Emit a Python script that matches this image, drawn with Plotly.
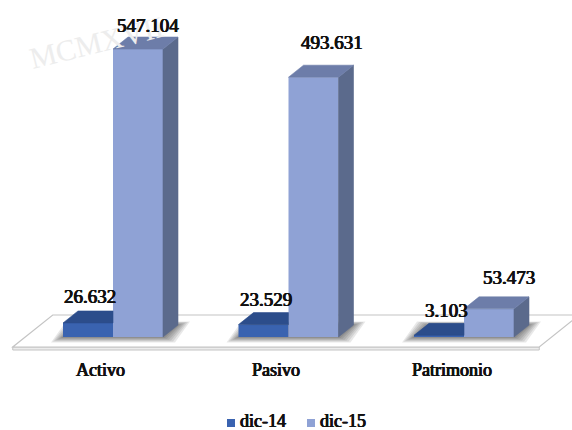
import plotly.graph_objects as go

# ---- data -----------------------------------------------------------------
categorias = ["Activo", "Pasivo", "Patrimonio"]
series = ["dic-14", "dic-15"]
dic_14 = [26.632, 23.529, 3.103]
dic_15 = [547.104, 493.631, 53.473]

# per-label placement tweaks in pixels (right, up)
nudge_14 = [(-13, 14), (-13, 13), (-8, 13)]
nudge_15 = [(-5, 12), (3, 23), (5, 19)]

# ---- geometry of the oblique "3-D" view ----------------------------------
W, H = 572, 430
CAT_PX = 175.5      # pixels between category centres
ORIGIN_PX = 113     # pixel column of the first category centre
BASE_PX = 337       # pixel row of value 0 on the bars' front edge
K = 1.9             # value units per pixel


def ux(p):
    return p / CAT_PX


def uy(p):
    return p * K


BW = ux(50)                 # bar width
DX, DY = ux(15), uy(12)     # bar depth offset
FX, FY = ux(-12.5), uy(-10)  # floor front edge relative to bar front
BX, BY = ux(27.5), uy(22)    # floor back edge relative to bar front
SLAB = uy(3)

C14 = dict(front="#3A63B0", top="#2C4D8B")
C15 = dict(front="#8FA2D5", top="#6D7DA9", side="#5B6A8C")
FONT = "Liberation Serif"
INK = "#111111"
# heavier strokes for the serif face
HEAVY = "0.5px 0 0 #111111, -0.5px 0 0 #111111, 0 0.3px 0 #111111"


def text_font(size):
    return dict(family=FONT, size=size, color=INK, shadow=HEAVY)


xs = list(range(len(categorias)))

fig = go.Figure()

# front faces (real bars)
fig.add_trace(go.Bar(x=xs, y=dic_14, width=BW, offset=-BW, name=series[0],
                     marker=dict(color=C14["front"], line=dict(width=0)),
                     hoverinfo="skip"))
fig.add_trace(go.Bar(x=xs, y=dic_15, width=BW, offset=0, name=series[1],
                     marker=dict(color=C15["front"], line=dict(width=0)),
                     hoverinfo="skip"))


def poly_trace(polys, colour):
    px, py = [], []
    for p in polys:
        for (a, b) in p:
            px.append(a)
            py.append(b)
        px.append(p[0][0])
        py.append(p[0][1])
        px.append(None)
        py.append(None)
    return go.Scatter(x=px, y=py, mode="lines", fill="toself",
                      fillcolor=colour, line=dict(color=colour, width=0.6),
                      hoverinfo="skip", showlegend=False)


# top faces of dic-14 (the part not hidden behind the dic-15 bar)
tops14 = []
for i, v in zip(xs, dic_14):
    tops14.append([(i - BW, v), (i, v), (i, v + DY), (i - BW + DX, v + DY)])
fig.add_trace(poly_trace(tops14, C14["top"]))

# top and side faces of dic-15
tops15, sides15 = [], []
for i, v in zip(xs, dic_15):
    tops15.append([(i, v), (i + BW, v), (i + BW + DX, v + DY), (i + DX, v + DY)])
    sides15.append([(i + BW, 0), (i + BW, v), (i + BW + DX, v + DY), (i + BW + DX, DY)])
fig.add_trace(poly_trace(sides15, C15["side"]))
fig.add_trace(poly_trace(tops15, C15["top"]))


def path(pts):
    return "M " + " L ".join(f"{a},{b}" for a, b in pts) + " Z"


shapes = []
# floor slab
x_lo, x_hi = -0.5, len(categorias) - 0.5
floor = [(x_lo + FX, FY), (x_hi + FX, FY), (x_hi + BX, BY), (x_lo + BX, BY)]
shapes.append(dict(type="path", xref="x", yref="y", layer="below",
                   path=path([(x_lo + FX, FY), (x_hi + FX, FY),
                              (x_hi + FX, FY - SLAB), (x_lo + FX, FY - SLAB)]),
                   fillcolor="#ECECEC", line=dict(color="#C4C4C4", width=1)))
shapes.append(dict(type="path", xref="x", yref="y", layer="below",
                   path=path(floor), fillcolor="white",
                   line=dict(color="#C4C4C4", width=1.2)))

# soft shadows round the base of each bar pair
for i in xs:
    for e in (12, 10, 8, 6, 4, 2):
        pts = [(i - BW - ux(e), -uy(e * 0.45)), (i + BW + ux(e), -uy(e * 0.45)),
               (i + BW + DX + ux(e), DY + uy(e * 0.3)),
               (i - BW + DX - ux(e), DY + uy(e * 0.3))]
        shapes.append(dict(type="path", xref="x", yref="y", layer="below",
                           path=path(pts), fillcolor="rgba(0,0,0,0.09)",
                           line=dict(width=0)))

annotations = []

# faint seal lettering in the background
annotations.append(dict(x=96 / W, y=1 - 42 / H, xref="paper", yref="paper",
                        text="MCMXVII", showarrow=False, textangle=-14,
                        xanchor="center", yanchor="middle",
                        font=dict(family=FONT, size=30, color="#EDEDED")))

# value labels
for vals, nudges, centre in ((dic_14, nudge_14, -BW / 2), (dic_15, nudge_15, BW / 2)):
    for i, v, (nx, ny) in zip(xs, vals, nudges):
        annotations.append(dict(x=i + centre + DX, y=v + DY, xref="x", yref="y",
                                text=f"{v:.3f}", showarrow=False,
                                xanchor="center", yanchor="middle",
                                xshift=nx, yshift=ny, font=text_font(19)))
# category labels along the front of the floor
for i, c in zip(xs, categorias):
    annotations.append(dict(x=i + FX, y=FY, xref="x", yref="y", text=c,
                            showarrow=False, xanchor="center", yanchor="middle",
                            yshift=-23, font=text_font(18)))

# legend
legend_items = [(series[0], C14["front"], 227), (series[1], C15["front"], 307)]
for name, colour, x0 in legend_items:
    shapes.append(dict(type="rect", xref="paper", yref="paper",
                       x0=x0 / W, x1=(x0 + 8) / W,
                       y0=1 - 427 / H, y1=1 - 419 / H,
                       fillcolor=colour, line=dict(width=0)))
    annotations.append(dict(x=(x0 + 11) / W, y=1 - 421 / H, xref="paper",
                            yref="paper", text=name, showarrow=False,
                            xanchor="left", yanchor="middle", font=text_font(18)))

fig.update_layout(
    width=W, height=H, autosize=False,
    margin=dict(l=0, r=0, t=0, b=0),
    paper_bgcolor="white", plot_bgcolor="white",
    barmode="overlay", showlegend=False,
    xaxis=dict(visible=False, range=[-ORIGIN_PX / CAT_PX, (W - ORIGIN_PX) / CAT_PX],
               fixedrange=True),
    yaxis=dict(visible=False, range=[-(H - BASE_PX) * K, BASE_PX * K],
               fixedrange=True),
    shapes=shapes, annotations=annotations,
)

fig.write_html("out.html")
